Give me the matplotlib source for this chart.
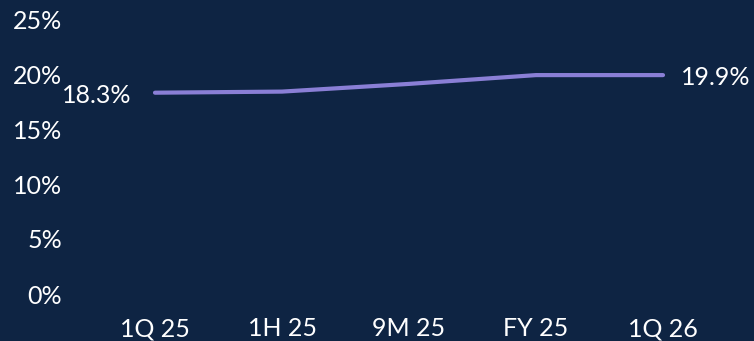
import matplotlib
matplotlib.use("Agg")
import matplotlib.pyplot as plt

periods = ["1Q 25", "1H 25", "9M 25", "FY 25", "1Q 26"]
margin = [18.3, 18.4, 19.1, 19.9, 19.9]
y_ticks = [0, 5, 10, 15, 20, 25]

BG = "#0e2443"
LINE = "#8a7fd6"
TXT = "#ffffff"
FS = 18

plt.rcParams["font.family"] = ["Lato", "DejaVu Sans"]

W, H = 754, 341
fig = plt.figure(figsize=(W / 100, H / 100), dpi=100, facecolor=BG)

left_px, right_px, top_px, bot_px = 72, 754, 6, 305
pos = [left_px / W, 1 - bot_px / H, (right_px - left_px) / W, (bot_px - top_px) / H]
ax = fig.add_axes(pos)
ax.set_facecolor(BG)

xs = list(range(len(periods)))
ax.plot(xs, margin, color=LINE, lw=3, solid_capstyle="round")

# 127 px per period, first point at x=155 px; 11 px per percent, zero at y=294 px
sx = 127.0
x0 = -(155 - left_px) / sx
ax.set_xlim(x0, x0 + (right_px - left_px) / sx)
sy = 11.0
ax.set_ylim(-(bot_px - 294) / sy, (294 - top_px) / sy)

ax.set_yticks(y_ticks)
ax.set_yticklabels([f"{v}%" for v in y_ticks], fontsize=FS, color=TXT)
ax.tick_params(axis="y", length=0, pad=7)
ax.set_xticks(xs)
ax.set_xticklabels(periods, fontsize=FS, color=TXT)
ax.tick_params(axis="x", length=0, pad=9)
for s in ax.spines.values():
    s.set_visible(False)

# first and last values
ax.annotate(f"{margin[0]}%", (xs[0], margin[0]), xytext=(-17, -2), textcoords="offset points",
            ha="right", va="center", fontsize=FS, color=TXT)
ax.annotate(f"{margin[-1]}%", (xs[-1], margin[-1]), xytext=(13, -2), textcoords="offset points",
            ha="left", va="center", fontsize=FS, color=TXT)

fig.savefig("out.png", dpi=100, facecolor=BG)
